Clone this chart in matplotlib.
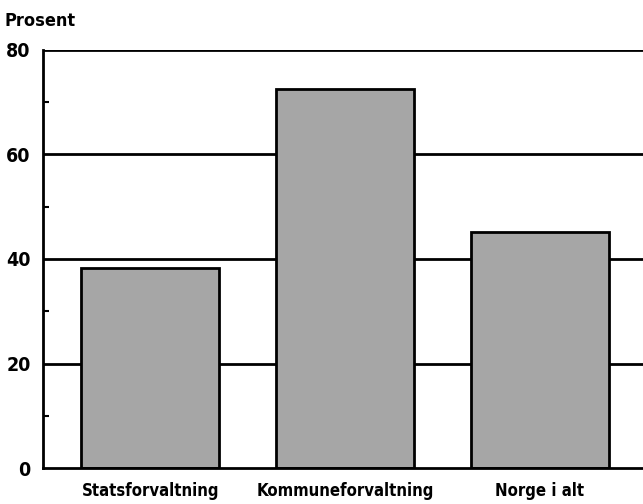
import matplotlib
matplotlib.use("Agg")
import matplotlib.pyplot as plt

categories = ["Statsforvaltning", "Kommuneforvaltning", "Norge i alt"]
values = [38.3, 72.5, 45.2]
yticks = [0, 20, 40, 60, 80]
minor_yticks = [10, 30, 50, 70]

plt.rcParams['font.family'] = ['DejaVu Sans']
plt.rcParams['font.stretch'] = 'condensed'

fig = plt.figure(figsize=(6.43, 5.04), dpi=100)
ax = fig.add_axes([43/643, 36/504, 1 - 43/643, (468-50)/504])

x = list(range(len(categories)))
ax.bar(x, values, width=0.71, color="#a6a6a6", edgecolor="black", linewidth=2, zorder=3)

for yv in yticks[1:]:
    ax.axhline(yv, color="black", linewidth=2, zorder=1)

ax.set_xlim(-0.55, 2.53)
ax.set_ylim(0, 80)
ax.set_yticks(yticks)
ax.set_yticks(minor_yticks, minor=True)
ax.set_yticklabels([str(t) for t in yticks], fontsize=14, fontweight="bold")
ax.tick_params(axis="y", which="major", length=0, pad=9)
ax.tick_params(axis="y", which="minor", direction="in", length=4, width=1.5)
ax.set_xticks(x)
ax.set_xticklabels(categories, fontsize=12, fontweight="bold")
ax.tick_params(axis="x", length=0, pad=10)

for s in ["top", "right"]:
    ax.spines[s].set_visible(False)
ax.spines["left"].set_linewidth(2)
ax.spines["bottom"].set_linewidth(2)
ax.spines["left"].set_zorder(4)
ax.spines["bottom"].set_zorder(4)

fig.text(5/643, 1 - 21/504, "Prosent", fontsize=13, fontweight="bold", va="center", ha="left")

fig.savefig("out.png", dpi=100)
